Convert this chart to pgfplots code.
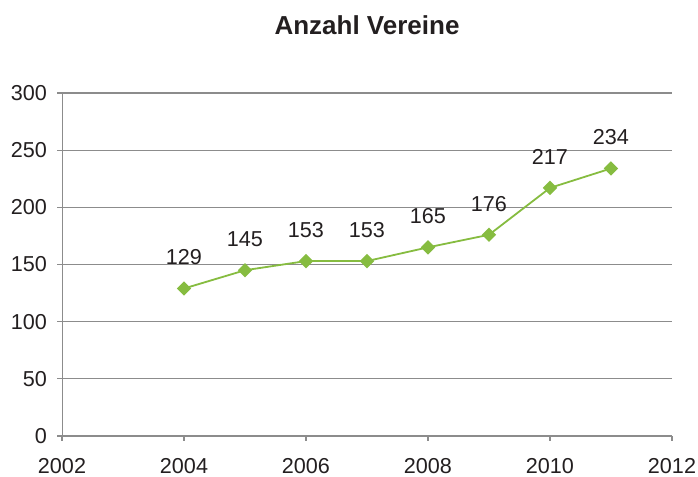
\documentclass[border=0pt]{standalone}
\usepackage{fontspec}
\setmainfont{Liberation Sans}
\usepackage{pgfplots}
\pgfplotsset{compat=1.18}
\definecolor{linegreen}{RGB}{134,188,64}
\definecolor{gridgray}{RGB}{140,140,140}
\definecolor{txt}{RGB}{35,31,32}

\begin{document}
\begin{tikzpicture}
    \useasboundingbox (-31pt,-20.5pt) rectangle (318pt,218pt);
    \begin{axis}[
        at={(0,0)}, anchor=south west,
        scale only axis,
        width=305pt, height=171.5pt,
        xmin=2002, xmax=2012, ymin=0, ymax=300,
        xtick={2002,2004,...,2012},
        ytick={0,50,...,300},
        axis lines=left,
        axis line style={gridgray, -},
        ymajorgrids,
        grid style={gridgray, line width=0.6pt},
        tick align=outside,
        major tick length=2.5pt,
        tick style={gridgray, line width=0.6pt},
        xticklabel style={/pgf/number format/1000 sep={}, yshift=-5pt},
        yticklabel style={xshift=-1.5pt},
        /pgf/number format/assume math mode=true,
        ticklabel style={font=\fontsize{10.8}{12}\selectfont, text=txt},
        title={\textbf{Anzahl Vereine}},
        title style={font=\fontsize{13}{15}\selectfont, text=txt, at={(0.5,1)}, anchor=center, yshift=28pt},
        nodes near coords,
        every node near coord/.style={anchor=center, yshift=15.5pt, font=\fontsize{10.8}{12}\selectfont, text=txt},
        clip=false,
    ]
        \addplot[linegreen, line width=0.9pt, mark=square*, mark size=2.1pt, mark options={fill=linegreen, draw=linegreen, rotate=45}]
            coordinates {(2004,129) (2005,145) (2006,153) (2007,153) (2008,165) (2009,176) (2010,217) (2011,234)};
    \end{axis}
\end{tikzpicture}
\end{document}
